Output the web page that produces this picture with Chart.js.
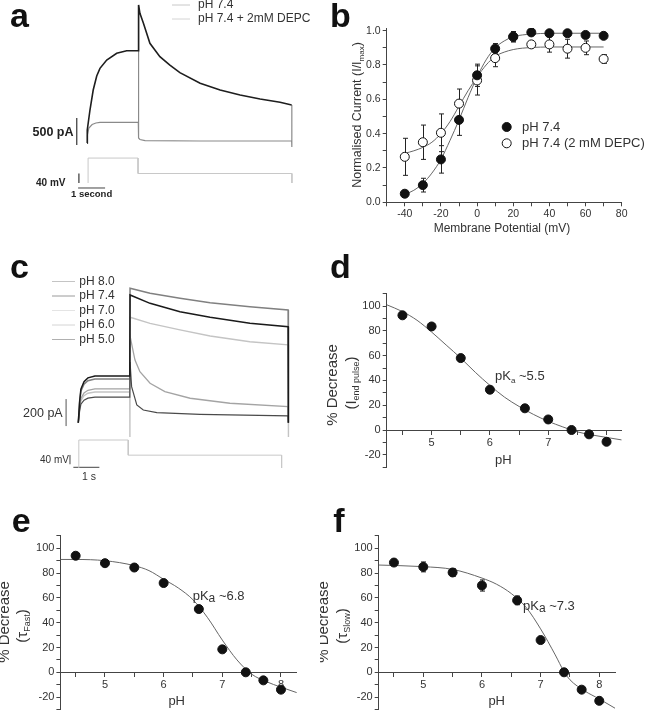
<!DOCTYPE html>
<html>
<head>
<meta charset="utf-8">
<script src="https://cdn.jsdelivr.net/npm/chart.js@4.4.1/dist/chart.umd.min.js"></script>
<style>
  body { margin: 0; background: #fff; }
  #page { position: relative; width: 648px; height: 710px; overflow: hidden; background: #fff; }
  canvas { position: absolute; }
</style>
</head>
<body>
<div id="page">
  <canvas id="panelA" width="320" height="210" style="left:0;top:0"></canvas>
  <canvas id="panelB" width="328" height="240" style="left:320px;top:0"></canvas>
  <canvas id="panelC" width="320" height="240" style="left:0;top:250px"></canvas>
  <canvas id="panelD" width="328" height="240" style="left:320px;top:240px"></canvas>
  <canvas id="panelE" width="320" height="225" style="left:0;top:500px"></canvas>
  <canvas id="panelF" width="328" height="225" style="left:320px;top:500px"></canvas>
</div>
<script>
const FONT = "'Liberation Sans', Arial, sans-serif";
Chart.defaults.font.family = FONT;
Chart.defaults.animation = false;
Chart.defaults.responsive = false;
Chart.defaults.plugins.legend.display = false;
Chart.defaults.plugins.tooltip.enabled = false;

// ---- panel a : current traces (s, pA) and voltage protocol (mV)
const aTimeCtrl = [0, 0.01, 0.11, 0.23, 0.36, 0.48, 0.73, 1.10, 1.47, 1.90, 1.91, 1.96, 2.09, 2.33, 2.70, 3.07, 3.44, 4.19, 4.93, 5.67, 6.41, 7.15, 7.58];
const aCurCtrl = [0, 241, 611, 981, 1241, 1383, 1537, 1661, 1709, 1709, 2556, 2402, 2217, 1846, 1598, 1444, 1302, 1106, 981, 889, 815, 754, 704];
const aTimeDepc = [0, 0.02, 0.07, 0.19, 0.33, 0.48, 1.90, 1.905, 1.915, 1.96, 2.15, 4.19, 7.58, 7.583, 7.59];
const aCurDepc = [0, 148, 278, 343, 370, 383, 383, 2556, 93, 65, 43, 37, 37, 704, -74];
const aProtTime = [0.04, 0.04, 1.89, 1.89, 7.59, 7.59];
const aProtMv = [-80, 25, 25, -40, -40, -80];
const aLegend = ["pH 7.4", "pH 7.4 + 2mM DEPC"];

// ---- panel b : normalised current vs membrane potential
const bVolt = [-40, -30, -20, -10, 0, 10, 20, 30, 40, 50, 60, 70];
const bCtrl = [0.05, 0.10, 0.25, 0.48, 0.74, 0.895, 0.965, 0.99, 0.985, 0.985, 0.975, 0.97];
const bCtrlErr = [0.01, 0.04, 0.08, 0.09, 0.065, 0.03, 0.03, 0.01, 0.01, 0.01, 0.01, 0.01];
const bDepc = [0.265, 0.35, 0.405, 0.575, 0.71, 0.84, 0.965, 0.92, 0.92, 0.895, 0.90, 0.835];
const bDepcErr = [0.108, 0.1, 0.11, 0.085, 0.085, 0.05, 0.03, 0.01, 0.045, 0.055, 0.04, 0.025];
const bFitVolt = [-40, -35, -30, -25, -20, -15, -10, -5, 0, 5, 10, 15, 20, 25, 30, 40, 50, 60, 70];
const bFitCtrl = [0.045, 0.07, 0.11, 0.17, 0.25, 0.36, 0.48, 0.61, 0.73, 0.83, 0.90, 0.94, 0.965, 0.975, 0.98, 0.985, 0.985, 0.985, 0.985];
const bFitDepc = [0.285, 0.30, 0.32, 0.35, 0.40, 0.47, 0.56, 0.65, 0.73, 0.80, 0.85, 0.875, 0.89, 0.898, 0.902, 0.905, 0.905, 0.905, 0.905];
const bTicksX = [-50, -40, -30, -20, -10, 0, 10, 20, 30, 40, 50, 60, 70, 80];
const bTicksY = [0, 0.1, 0.2, 0.3, 0.4, 0.5, 0.6, 0.7, 0.8, 0.9, 1.0];
const bLegend = ["pH 7.4", "pH 7.4 (2 mM DEPC)"];

// ---- panel c : traces at several pH
const cLegend = ["pH 8.0", "pH 7.4", "pH 7.0", "pH 6.0", "pH 5.0"];
const cLegendColors = ["#c4c4c4", "#9a9a9a", "#e4e4e4", "#d4d4d4", "#b0b0b0"];
const cTime80 = [0, 0.05, 0.10, 0.22, 0.37, 0.64, 1.98, 1.99, 2.76, 3.91, 5.07, 6.60, 8.07, 8.08];
const cCur80 = [0, 146, 233, 285, 311, 324, 324, 996, 958, 922, 889, 859, 835, 0];
const cTime74 = [0, 0.05, 0.10, 0.22, 0.37, 0.64, 1.98, 1.99, 2.76, 3.91, 5.07, 6.60, 8.07, 8.08];
const cCur74 = [0, 156, 249, 304, 332, 346, 346, 946, 884, 822, 781, 736, 711, 0];
const cTime70 = [0, 0.05, 0.10, 0.22, 0.37, 0.64, 1.98, 1.985, 1.995, 2.76, 3.91, 5.07, 6.60, 8.07, 8.075, 8.09];
const cCur70 = [0, 102, 163, 200, 218, 227, 227, -106, 781, 736, 687, 642, 600, 576, -106, 0];
const cTime60 = [0, 0.05, 0.10, 0.22, 0.37, 0.64, 1.98, 1.99, 2.18, 2.37, 2.76, 3.33, 4.30, 5.83, 8.07, 8.08];
const cCur60 = [0, 112, 180, 220, 240, 250, 250, 642, 464, 378, 292, 230, 181, 144, 119, 0];
const cTime50 = [0, 0.05, 0.10, 0.22, 0.37, 0.64, 1.98, 1.99, 2.05, 2.25, 2.50, 3.02, 4.68, 8.07, 8.08];
const cCur50 = [0, 86, 137, 167, 182, 190, 190, 450, 267, 131, 94, 74, 62, 50, 0];
const cProtTime = [0.02, 0.02, 1.92, 1.92, 7.82, 7.82];
const cProtMv = [-80, 40, 40, -25, -25, -80];

// ---- panels d, e, f : % decrease vs pH
const phValues = [4.5, 5.0, 5.5, 6.0, 6.6, 7.0, 7.4, 7.7, 8.0];
const dDecrease = [92.5, 83.5, 58, 32.5, 17.5, 8.5, 0, -3.5, -9.5];
const eDecrease = [94, 88, 84.5, 72, 51, 18.5, 0, -6.5, -14];
const fDecrease = [88.5, 85, 80.5, 70, 58, 26, 0, -14, -23];
const fErr = [1.5, 4, 3, 4.5, 3.5, 1, 0.5, 1, 1];
const dFitPh = [4.23, 4.5, 4.75, 5.0, 5.25, 5.5, 5.75, 6.0, 6.25, 6.5, 6.75, 7.0, 7.25, 7.5, 7.75, 8.0, 8.26];
const dFit = [101, 95.5, 88.5, 79, 68.5, 58, 46.5, 36, 26.5, 19, 12.5, 7, 2.5, -1.5, -4, -6, -8];
const eFitPh = [4.24, 4.5, 5.0, 5.5, 5.75, 6.0, 6.25, 6.5, 6.75, 7.0, 7.25, 7.5, 7.75, 8.0, 8.27];
const eFit = [91, 91, 90, 86, 82, 75, 68, 58.5, 44, 26, 10, -1.5, -7.5, -12, -16.4];
const fFitPh = [4.24, 5.0, 5.5, 6.0, 6.25, 6.5, 6.75, 7.0, 7.25, 7.4, 7.5, 7.75, 8.0, 8.27];
const fFit = [86.5, 85.2, 83, 76, 71, 63.5, 52.5, 35, 14, 0.5, -6, -15, -21.5, -29];
const phTicks = [4.5, 5, 5.5, 6, 6.5, 7, 7.5, 8];
const pctTicks = [-30, -20, -10, 0, 10, 20, 30, 40, 50, 60, 70, 80, 90, 100, 110];

const pts = (xs, ys) => xs.map((x, i) => ({ x: x, y: ys[i] }));

// texte avec indices éventuels, droit ou tourné
function drawText(ctx, it) {
  const size = it.size || 12;
  const sub = it.sub || size * 0.65;
  const weight = it.bold ? "bold " : "";
  const parts = it.parts || [[it.text]];
  const widths = parts.map(p => {
    ctx.font = weight + (p[1] ? sub : size) + "px " + FONT;
    return ctx.measureText(p[0]).width;
  });
  const total = widths.reduce((a, b) => a + b, 0);
  ctx.translate(it.x, it.y);
  if (it.rotate) ctx.rotate(-Math.PI / 2);
  let x0 = it.align === "center" ? -total / 2 : it.align === "right" ? -total : 0;
  ctx.textAlign = "left";
  ctx.textBaseline = it.baseline || "middle";
  ctx.fillStyle = it.color || "#222";
  parts.forEach((p, i) => {
    ctx.font = weight + (p[1] ? sub : size) + "px " + FONT;
    const dy = p[1] ? 0.3465 * size + 0.15 * size - 0.3465 * sub : 0;
    ctx.fillText(p[0], x0, dy);
    x0 += widths[i];
  });
}

function notesPlugin(items) {
  return {
    id: "notes",
    afterDraw(chart) {
      const ctx = chart.ctx;
      items.forEach(it => {
        ctx.save();
        if (it.line) {
          ctx.strokeStyle = it.color;
          ctx.lineWidth = 1;
          ctx.beginPath();
          ctx.moveTo(it.line[0], it.line[1]);
          ctx.lineTo(it.line[2], it.line[3]);
          ctx.stroke();
        } else if (it.marker) {
          ctx.beginPath();
          ctx.arc(it.x, it.y, it.r, 0, Math.PI * 2);
          ctx.fillStyle = it.marker === "open" ? "#fff" : "#111";
          ctx.fill();
          ctx.strokeStyle = "#111";
          ctx.lineWidth = 1;
          ctx.stroke();
        } else {
          drawText(ctx, it);
        }
        ctx.restore();
      });
    }
  };
}

// barres d'erreur, dessinées sous les points
function errPlugin(sets) {
  return {
    id: "errorBars",
    beforeDatasetsDraw(chart) {
      const ctx = chart.ctx, xs = chart.scales.x, ys = chart.scales.y;
      ctx.save();
      ctx.strokeStyle = "#222";
      ctx.lineWidth = 1;
      sets.forEach(s => {
        s.x.forEach((xv, i) => {
          const px = Math.round(xs.getPixelForValue(xv)) + 0.5;
          const top = ys.getPixelForValue(s.y[i] + s.err[i]);
          const bot = ys.getPixelForValue(s.y[i] - s.err[i]);
          ctx.beginPath();
          ctx.moveTo(px, top); ctx.lineTo(px, bot);
          ctx.moveTo(px - 2.5, top); ctx.lineTo(px + 2.5, top);
          ctx.moveTo(px - 2.5, bot); ctx.lineTo(px + 2.5, bot);
          ctx.stroke();
        });
      });
      ctx.restore();
    }
  };
}

function trace(xs, ys, color, width, axis) {
  return {
    data: pts(xs, ys), showLine: true, pointRadius: 0, tension: 0,
    borderColor: color, borderWidth: width || 1, yAxisID: axis || "y"
  };
}

function traceChart(id, pad, xr, yr, vr, datasets, items) {
  return new Chart(document.getElementById(id), {
    type: "scatter",
    data: { datasets: datasets },
    options: {
      layout: { padding: pad },
      scales: {
        x: { type: "linear", display: false, min: xr[0], max: xr[1] },
        y: { type: "linear", display: false, min: yr[0], max: yr[1] },
        yV: { type: "linear", display: false, min: vr[0], max: vr[1] }
      }
    },
    plugins: [notesPlugin(items)]
  });
}

function axis(min, max, ticks, label, size, extra) {
  return Object.assign({
    type: "linear", min: min, max: max,
    afterBuildTicks: s => { s.ticks = ticks.map(v => ({ value: v })); },
    ticks: { callback: label, color: "#333", font: { size: size }, padding: 2, autoSkip: false, maxRotation: 0, minRotation: 0 },
    grid: { drawOnChartArea: false, tickLength: 4, color: "#444", lineWidth: 1 },
    border: { color: "#444", width: 1 }
  }, extra);
}

const points = (xs, ys, open) => ({
  data: pts(xs, ys), pointRadius: 4.5, pointBorderWidth: 1,
  pointBackgroundColor: open ? "#fff" : "#111", pointBorderColor: "#111"
});
const fit = (xs, ys) => ({
  data: pts(xs, ys), showLine: true, pointRadius: 0, borderColor: "#666",
  borderWidth: 1, cubicInterpolationMode: "monotone"
});

// ---------- a
traceChart("panelA", { left: 6, right: 3.5, top: 0, bottom: 5 }, [-3, 8.5], [-1148, 2648], [-172.6, 690.5], [
  trace(aTimeCtrl, aCurCtrl, "#1e1e1e", 1.6),
  trace(aTimeDepc, aCurDepc, "#8a8a8a", 1.2),
  trace(aProtTime, aProtMv, "#c8c8c8", 1, "yV"),
  trace([-0.38, -0.38], [-37, 463], "#444", 1.3),
  trace([-0.30, -0.30], [-80, -40], "#444", 1.3, "yV"),
  trace([-0.33, 0.67], [-101, -101], "#444", 1, "yV")
], [
  { text: "a", x: 10, y: 27, size: 34, bold: true, baseline: "alphabetic", color: "#111" },
  { line: [172, 5, 190, 5], color: "#c8c8c8" },
  { line: [172, 19, 190, 19], color: "#d4d4d4" },
  { text: aLegend[0], x: 198, y: 5, size: 12, color: "#333" },
  { text: aLegend[1], x: 198, y: 19, size: 12, color: "#333" },
  { text: "500 pA", x: 73.5, y: 133, size: 12.5, bold: true, align: "right" },
  { text: "40 mV", x: 36, y: 183, size: 10, bold: true },
  { text: "1 second", x: 71, y: 194, size: 9.5, bold: true }
]);

// ---------- b
new Chart(document.getElementById("panelB"), {
  type: "scatter",
  data: {
    datasets: [
      points(bVolt, bCtrl, false),
      points(bVolt, bDepc, true),
      fit(bFitVolt, bFitCtrl),
      fit(bFitVolt, bFitDepc)
    ]
  },
  options: {
    layout: { padding: { left: 26.7, right: 26.3, top: 28.1, bottom: 15.7 } },
    scales: {
      x: axis(-50, 80, bTicksX, v => (v % 20 === 0 ? String(v) : ""), 10.5, { afterFit: s => { s.height = 22; } }),
      y: axis(0, 1.015, bTicksY, v => (Math.round(v * 10) % 2 === 0 ? v.toFixed(1) : ""), 10.5, { afterFit: s => { s.width = 40; } })
    }
  },
  plugins: [
    errPlugin([{ x: bVolt, y: bCtrl, err: bCtrlErr }, { x: bVolt, y: bDepc, err: bDepcErr }]),
    notesPlugin([
      { text: "b", x: 10, y: 27, size: 34, bold: true, baseline: "alphabetic", color: "#111" },
      { parts: [["Normalised Current (I/I"], ["max", 1], [")"]], x: 38, y: 115, size: 12.5, sub: 8, rotate: true, align: "center", color: "#333" },
      { text: "Membrane Potential (mV)", x: 182, y: 229, size: 12, align: "center", color: "#333" },
      { marker: "filled", x: 186.7, y: 127, r: 4.5 },
      { text: bLegend[0], x: 202, y: 127, size: 13, color: "#333" },
      { marker: "open", x: 186.7, y: 143.3, r: 4.5 },
      { text: bLegend[1], x: 202, y: 143.3, size: 13, color: "#333" }
    ])
  ]
});

// ---------- c
const cItems = [
  { text: "c", x: 10, y: 28.3, size: 34, bold: true, baseline: "alphabetic", color: "#111" },
  { text: "200 pA", x: 62.7, y: 163.3, size: 12.5, align: "right", color: "#333" },
  { text: "40 mV", x: 40, y: 210, size: 10, color: "#333" },
  { text: "1 s", x: 82, y: 226.7, size: 10.5, color: "#333" }
];
cLegend.forEach((lab, i) => {
  const y = 31.5 + i * 14.5;
  cItems.push({ line: [52, y, 75, y], color: cLegendColors[i] });
  cItems.push({ text: lab, x: 79.3, y: y, size: 12, color: "#333" });
});
traceChart("panelC", { left: 13.3, right: 20.7, top: 0, bottom: 0 }, [-2.5, 8.5], [-498.5, 1279], [-174.3, 854.4], [
  trace(cTime74, cCur74, "#1a1a1a", 1.5),
  trace(cTime50, cCur50, "#4a4a4a", 1.2),
  trace(cTime80, cCur80, "#808080", 1.5),
  trace(cTime60, cCur60, "#a4a4a4", 1.3),
  trace(cTime70, cCur70, "#c4c4c4", 1.4),
  trace(cProtTime, cProtMv, "#c8c8c8", 1, "yV"),
  trace([-0.47, -0.47], [-25, 175], "#555", 1),
  trace([-0.32, -0.32], [-64, -24], "#444", 1, "yV"),
  trace([-0.19, 0.81], [-77, -77], "#444", 1, "yV")
], cItems);

// ---------- d, e, f
function phChart(id, pad, xr, ys, fitPh, fitVals, err, items) {
  const sets = err ? [errPlugin([{ x: phValues, y: ys, err: err }])] : [];
  return new Chart(document.getElementById(id), {
    type: "scatter",
    data: { datasets: [points(phValues, ys, false), fit(fitPh, fitVals)] },
    options: {
      layout: { padding: pad },
      scales: {
        x: axis(xr[0], xr[1], phTicks, v => (Number.isInteger(v) ? String(v) : ""), 11, { position: { y: 0 } }),
        y: axis(-30, 110, pctTicks, v => (v % 20 === 0 ? String(v) : ""), 11, { afterFit: s => { s.width = 40; } })
      }
    },
    plugins: sets.concat([notesPlugin(items)])
  });
}

phChart("panelD", { left: 26.7, right: 26.3, top: 53.6, bottom: 12.8 }, [4.23, 8.26], dDecrease, dFitPh, dFit, null, [
  { text: "d", x: 10, y: 38.3, size: 34, bold: true, baseline: "alphabetic", color: "#111" },
  { text: "% Decrease", x: 13.3, y: 145, size: 15, rotate: true, align: "center", color: "#333" },
  { parts: [["(I"], ["end pulse", 1], [")"]], x: 31.7, y: 143, size: 15, sub: 9, rotate: true, align: "center", color: "#333" },
  { text: "pH", x: 183.3, y: 220, size: 13, align: "center", color: "#333" },
  { parts: [["pK"], ["a", 1], [" ~5.5"]], x: 175, y: 136.7, size: 13, sub: 8, color: "#333" }
]);

phChart("panelE", { left: 20.4, right: 23.2, top: 35.9, bottom: 15.5 }, [4.24, 8.27], eDecrease, eFitPh, eFit, null, [
  { text: "e", x: 11.7, y: 31.5, size: 34, bold: true, baseline: "alphabetic", color: "#111" },
  { text: "% Decrease", x: 5, y: 122, size: 15, rotate: true, align: "center", color: "#333" },
  { parts: [["(\u03c4"], ["Fast", 1], [")"]], x: 23.3, y: 126, size: 15, sub: 9, rotate: true, align: "center", color: "#333" },
  { text: "pH", x: 176.7, y: 201.7, size: 13, align: "center", color: "#333" },
  { parts: [["pK"], ["a", 1], [" ~6.8"]], x: 192.7, y: 96.7, size: 13, sub: 12, color: "#333" }
]);

phChart("panelF", { left: 18.7, right: 32.9, top: 35.9, bottom: 15.5 }, [4.24, 8.27], fDecrease, fFitPh, fFit, fErr, [
  { text: "f", x: 13.3, y: 31.5, size: 34, bold: true, baseline: "alphabetic", color: "#111" },
  { text: "% Decrease", x: 4, y: 122, size: 15, rotate: true, align: "center", color: "#333" },
  { parts: [["(\u03c4"], ["Slow", 1], [")"]], x: 23.3, y: 126, size: 15, sub: 9, rotate: true, align: "center", color: "#333" },
  { text: "pH", x: 176.7, y: 201.7, size: 13, align: "center", color: "#333" },
  { parts: [["pK"], ["a", 1], [" ~7.3"]], x: 203, y: 106.7, size: 13, sub: 12, color: "#333" }
]);
</script>
</body>
</html>
